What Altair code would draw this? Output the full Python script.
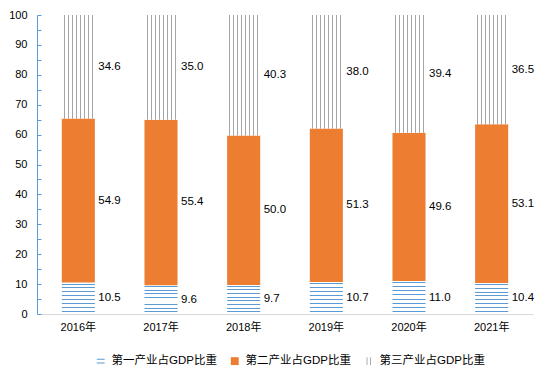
import altair as alt
import pandas as pd

years = ["2016年", "2017年", "2018年", "2019年", "2020年", "2021年"]
series = ["第一产业占GDP比重", "第二产业占GDP比重", "第三产业占GDP比重"]
primary = [10.5, 9.6, 9.7, 10.7, 11.0, 10.4]
secondary = [54.9, 55.4, 50.0, 51.3, 49.6, 53.1]
tertiary = [34.6, 35.0, 40.3, 38.0, 39.4, 36.5]

BLUE = "#5B9BD5"
ORANGE = "#ED7D31"
GRAY = "#A5A5A5"
FONT = "Liberation Sans, Noto Sans CJK SC, sans-serif"

rows = []
for i, yr in enumerate(years):
    for k, vals in enumerate([primary, secondary, tertiary]):
        rows.append({"year": yr, "series": series[k], "order": k, "value": vals[i]})
df = pd.DataFrame(rows)


def stripes(n, color, start, period, thick, vertical_lines):
    stops = [{"offset": 0, "color": "#ffffff"}]
    for k in range(n):
        s = start + k * period
        e = min(s + thick, 1)
        stops += [{"offset": s, "color": "#ffffff"}, {"offset": s, "color": color},
                  {"offset": e, "color": color}, {"offset": e, "color": "#ffffff"}]
    stops.append({"offset": 1, "color": "#ffffff"})
    if vertical_lines:
        return {"gradient": "linear", "x1": 0, "y1": 0, "x2": 1, "y2": 0, "stops": stops}
    return {"gradient": "linear", "x1": 0, "y1": 0, "x2": 0, "y2": 1, "stops": stops}


fill_first = stripes(8, BLUE, 0.03, 0.125, 0.032, False)
fill_third = stripes(8, GRAY, 0.065, 0.121, 0.033, True)

base = alt.Chart(df).transform_stack(
    stack="value", as_=["y0", "y1"], groupby=["year"],
    sort=[alt.SortField("order", order="ascending")]
).transform_calculate(mid="(datum.y0 + datum.y1) / 2")

xenc = alt.X("year:N", sort=years,
             scale=alt.Scale(paddingInner=0.6, paddingOuter=0.3),
             axis=alt.Axis(title=None, labelAngle=0, domainColor="#D9D9D9", domainWidth=1,
                           ticks=False, tickSize=0, labelPadding=7, labelFontSize=11,
                           labelColor="#000000", labelFont=FONT))
yscale = alt.Scale(domain=[0, 100], nice=False, zero=True)

main_axis = alt.Axis(title=None, values=list(range(0, 101, 10)), ticks=False, tickSize=0,
                     domainColor=BLUE, domainWidth=1, grid=False, labelPadding=10,
                     labelFontSize=11, labelColor="#000000", labelFont=FONT, orient="left")
tick_axis = alt.Axis(title=None, values=list(range(0, 101, 5)), labels=False, domain=False,
                     ticks=True, tickSize=4, tickColor=BLUE, offset=-4, grid=False,
                     orient="left")

bar1 = base.transform_filter(alt.datum.order == 0).mark_bar(fill=fill_first).encode(
    x=xenc, y=alt.Y("y0:Q", scale=yscale, axis=main_axis), y2="y1:Q")
bar2 = base.transform_filter(alt.datum.order == 1).mark_bar(fill=ORANGE).encode(
    x=xenc, y=alt.Y("y0:Q", scale=yscale, axis=None), y2="y1:Q")
bar3 = base.transform_filter(alt.datum.order == 2).mark_bar(fill=fill_third).encode(
    x=xenc, y=alt.Y("y0:Q", scale=yscale, axis=None), y2="y1:Q")

labels = base.mark_text(align="left", baseline="middle", dx=20, fontSize=11.5,
                        font=FONT, color="#000000").encode(
    x=xenc, y=alt.Y("mid:Q", scale=yscale, axis=tick_axis),
    text=alt.Text("value:Q", format=".1f"))

shape_first = "M-1,-0.62H1V-0.38H-1Z M-1,0.38H1V0.62H-1Z"
shape_third = "M-0.55,-1H-0.32V1H-0.55Z M0.32,-1H0.55V1H0.32Z"
leg = alt.Legend(title=None, orient="none", legendX=58, legendY=340, direction="horizontal",
                 labelFontSize=11.5, labelFont=FONT, labelColor="#000000", symbolSize=62,
                 columnPadding=12, labelOffset=5, symbolStrokeWidth=0)
legend_layer = base.transform_filter("false").mark_point(filled=True, opacity=1).encode(
    color=alt.Color("series:N", scale=alt.Scale(domain=series, range=[BLUE, ORANGE, GRAY]),
                    legend=leg),
    shape=alt.Shape("series:N", scale=alt.Scale(domain=series,
                                                range=[shape_first, "square", shape_third]),
                    legend=leg))

chart = alt.layer(bar1, bar2, bar3, labels, legend_layer).resolve_axis(
    y="independent"
).properties(
    width=496, height=299,
    autosize=alt.AutoSizeParams(type="none"),
    padding={"left": 37, "top": 15, "right": 15, "bottom": 63},
    background="#ffffff",
).configure_view(stroke=None)

chart.save("out.html", embed_options={"renderer": "svg", "actions": False})
